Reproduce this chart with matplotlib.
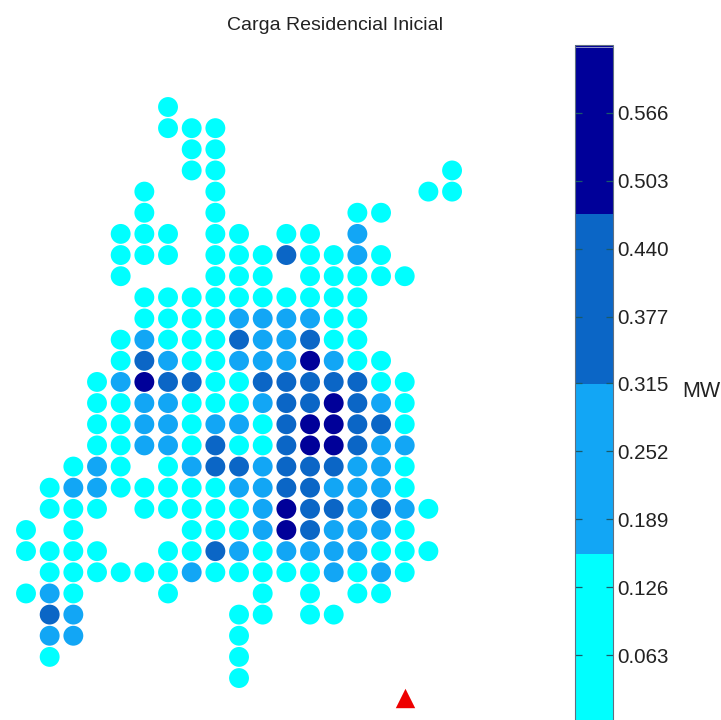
import matplotlib
matplotlib.use("Agg")
import matplotlib.pyplot as plt
import numpy as np
from matplotlib.colors import ListedColormap, Normalize
from matplotlib.cm import ScalarMappable

plt.rcParams['font.family'] = ['Liberation Sans', 'DejaVu Sans']

title = "Carga Residencial Inicial"
unit = "MW"
tick_values = [0.063, 0.126, 0.189, 0.252, 0.315, 0.377, 0.440, 0.503, 0.566]
colors = ["#00FFFF", "#12A6F5", "#0B66C6", "#000099"]
vmax = 0.629
level_values = [0.07, 0.24, 0.39, 0.55]
station_col, station_row = 16, 27.92

# one string per grid row, one character per column: '.' = no load, digit = load class
grid = [
    "......0............",
    "......000..........",
    ".......00..........",
    ".......00.........0",
    ".....0..0........00",
    ".....0..0.....00...",
    "....000.00.00.1....",
    "....000.00020010...",
    "....0...000.00000..",
    ".....0000000000....",
    ".....0000111100....",
    "....01000211200....",
    "....021001113100...",
    "...01322002222200..",
    "...00110001223210..",
    "...00110110233220..",
    "...00110200233211..",
    "..010.01221222110..",
    ".0110000011221110..",
    ".000.0000013221210.",
    "0.0....0001321110..",
    "0000..002101111000.",
    ".0000001000001010..",
    "010...0...0.0.00...",
    ".21......00.00.....",
    ".11......0.........",
    ".0.......0.........",
    ".........0.........",
]

cols, rows, vals = [], [], []
for r, line in enumerate(grid):
    for c, ch in enumerate(line):
        if ch != ".":
            cols.append(c)
            rows.append(r)
            vals.append(level_values[int(ch)])

W, H = 721, 720
fig = plt.figure(figsize=(W / 100, H / 100), dpi=100)

# map axes: one column = 23.67 px, one row = 21.15 px
x0, dx, y0, dy = 26.0, 23.67, 107.0, 21.15
left, right = x0 - dx, x0 + 19 * dx
top, bottom = y0 - dy, y0 + 29 * dy
ax = fig.add_axes([left / W, 1 - bottom / H, (right - left) / W, (bottom - top) / H])
ax.set_xlim(-1, 19)
ax.set_ylim(29, -1)
ax.axis("off")

cmap = ListedColormap(colors)
norm = Normalize(0, vmax)
ax.scatter(cols, rows, c=vals, cmap=cmap, norm=norm, s=205, linewidths=0, clip_on=False)
ax.scatter([station_col], [station_row], marker="^", color="#EE0000", s=195, linewidths=0, clip_on=False)

fig.text(335 / W, 1 - 25 / H, title, ha="center", va="center", fontsize=14, color="#222222")

# colour bar: top at y=45 px, zero just below the figure's lower edge
cb_top, cb_bot = 45, 723
cax = fig.add_axes([575 / W, 1 - cb_bot / H, 38 / W, (cb_bot - cb_top) / H])
cb = fig.colorbar(ScalarMappable(norm=norm, cmap=cmap), cax=cax, ticks=tick_values)
cb.ax.set_yticklabels([f"{t:.3f}" for t in tick_values])
cax.tick_params(axis="y", which="major", left=True, right=True, direction="in", length=5,
                width=0.9, color="#1a5a6a", labelsize=14.8, labelcolor="#222222", pad=3)
cb.outline.set_edgecolor("#607080")
cb.outline.set_linewidth(0.8)
cax.axhline(vmax - 0.0018, color="#8f93c8", lw=0.7)

fig.text(701 / W, 1 - 392 / H, unit, ha="center", va="center", fontsize=15.5, color="#222222")

fig.savefig("out.png", dpi=100)
